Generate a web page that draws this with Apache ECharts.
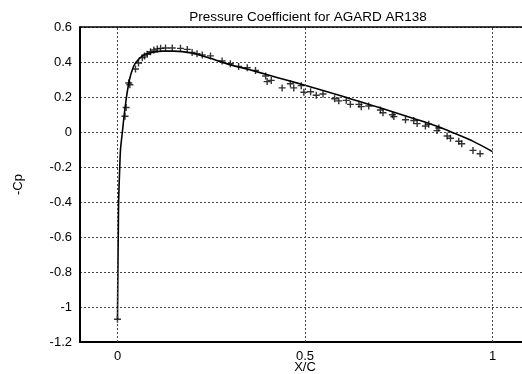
<!DOCTYPE html>
<html>
<head>
<meta charset="utf-8">
<script src="https://cdn.jsdelivr.net/npm/echarts@6/dist/echarts.min.js"></script>
<style>
  html, body { margin: 0; padding: 0; background: #fff; }
  #chart { width: 522px; height: 374px; }
</style>
</head>
<body>
<div id="chart"></div>
<script>
// Computed -Cp distribution along the chord (solid line)
const computedX = [0, 0.001, 0.002, 0.003, 0.006, 0.008, 0.013, 0.018, 0.024, 0.032, 0.042, 0.05,
  0.065, 0.08, 0.1, 0.12, 0.15, 0.2, 0.25, 0.27, 0.3, 0.35, 0.4, 0.45, 0.5, 0.55, 0.6, 0.65,
  0.7, 0.75, 0.8, 0.85, 0.89, 0.95, 1.0];
const computedCp = [-1.07, -0.8, -0.6, -0.4, -0.2, -0.1, 0, 0.1, 0.2, 0.3, 0.37, 0.4,
  0.432, 0.448, 0.458, 0.462, 0.462, 0.45, 0.42, 0.405, 0.385, 0.357, 0.327, 0.297, 0.267, 0.236, 0.204, 0.171,
  0.138, 0.104, 0.07, 0.034, 0.0, -0.055, -0.112];

// Experimental -Cp (AGARD AR138 measurements, crosses)
const expX = [0.0, 0.02, 0.023, 0.03, 0.033, 0.048, 0.056, 0.066, 0.072, 0.079, 0.088, 0.097,
  0.106, 0.115, 0.128, 0.146, 0.168, 0.186, 0.199, 0.212, 0.226, 0.248, 0.279, 0.301, 0.323,
  0.346, 0.368, 0.395, 0.399, 0.41, 0.439, 0.461, 0.47, 0.49, 0.497, 0.515, 0.53, 0.548, 0.579,
  0.59, 0.61, 0.621, 0.644, 0.65, 0.67, 0.701, 0.708, 0.733, 0.737, 0.768, 0.79, 0.799, 0.821,
  0.83, 0.852, 0.857, 0.879, 0.888, 0.91, 0.918, 0.948, 0.967];
const expCp = [-1.07, 0.09, 0.14, 0.28, 0.27, 0.36, 0.394, 0.425, 0.435, 0.444, 0.459, 0.469,
  0.475, 0.478, 0.48, 0.48, 0.478, 0.472, 0.455, 0.447, 0.44, 0.435, 0.406, 0.39, 0.375,
  0.367, 0.352, 0.32, 0.288, 0.295, 0.252, 0.276, 0.252, 0.265, 0.227, 0.23, 0.21, 0.217, 0.19,
  0.178, 0.181, 0.158, 0.158, 0.145, 0.149, 0.126, 0.11, 0.099, 0.088, 0.07, 0.066, 0.048, 0.034,
  0.044, 0.008, 0.023, -0.023, -0.036, -0.053, -0.067, -0.105, -0.124];

// Axis ticks
const xTicks = [0, 0.5, 1];
const yMin = -1.2, yMax = 0.6, yStep = 0.2;

const font = 'Liberation Sans, Arial, sans-serif';
const plusPath = 'path://M4,0H6V4H10V6H6V10H4V6H0V4H4Z';
const dotted = { color: '#444', type: [2, 2], width: 1 };

const chart = echarts.init(document.getElementById('chart'), null, { renderer: 'canvas' });
chart.setOption({
  animation: false,
  backgroundColor: '#ffffff',
  title: {
    text: 'Pressure Coefficient for AGARD AR138',
    left: 303, top: 5, textAlign: 'center',
    textStyle: { fontFamily: font, fontSize: 13.5, fontWeight: 'normal', color: '#000' }
  },
  grid: {
    left: 80, top: 27, width: 450, height: 315,
    outerBoundsMode: 'none', containLabel: false
  },
  xAxis: {
    type: 'value', min: -0.1, max: 1.1,
    name: 'X/C', nameLocation: 'middle', nameGap: 19, nameMoveOverlap: false,
    nameTextStyle: { fontFamily: font, fontSize: 13, color: '#000' },
    axisLine: { show: true, onZero: false, lineStyle: { color: '#000', width: 2 } },
    axisTick: { show: false, customValues: xTicks },
    axisLabel: {
      customValues: xTicks, margin: 8,
      fontFamily: font, fontSize: 13, color: '#000',
      formatter: v => String(v)
    },
    splitLine: { show: false }
  },
  yAxis: {
    type: 'value', min: yMin, max: yMax, interval: yStep,
    name: '-Cp', nameLocation: 'middle', nameGap: 55, nameRotate: 90,
    nameTextStyle: { fontFamily: font, fontSize: 13, color: '#000' },
    axisLine: { show: true, onZero: false, lineStyle: { color: '#000', width: 2 } },
    axisTick: { show: false },
    axisLabel: {
      margin: 8, fontFamily: font, fontSize: 13, color: '#000',
      formatter: v => String(Math.round(v * 10) / 10)
    },
    splitLine: { show: true, lineStyle: dotted }
  },
  series: [
    {
      // vertical grid lines at the chord stations, plus the top frame edge
      type: 'line', data: [], z: 1, silent: true,
      markLine: {
        silent: true, symbol: 'none', label: { show: false },
        lineStyle: dotted,
        data: xTicks.map(v => ({ xAxis: v })).concat([
          { yAxis: yMax, lineStyle: { color: '#000', type: 'solid', width: 1.5 } }
        ])
      }
    },
    {
      type: 'line',
      data: computedX.map((x, i) => [x, computedCp[i]]),
      showSymbol: false, smooth: 0.3,
      lineStyle: { color: '#000', width: 1.6 },
      z: 3
    },
    {
      type: 'scatter',
      data: expX.map((x, i) => [x, expCp[i]]),
      symbol: plusPath, symbolSize: 7,
      itemStyle: { color: '#000' },
      z: 4
    }
  ]
});
</script>
</body>
</html>
